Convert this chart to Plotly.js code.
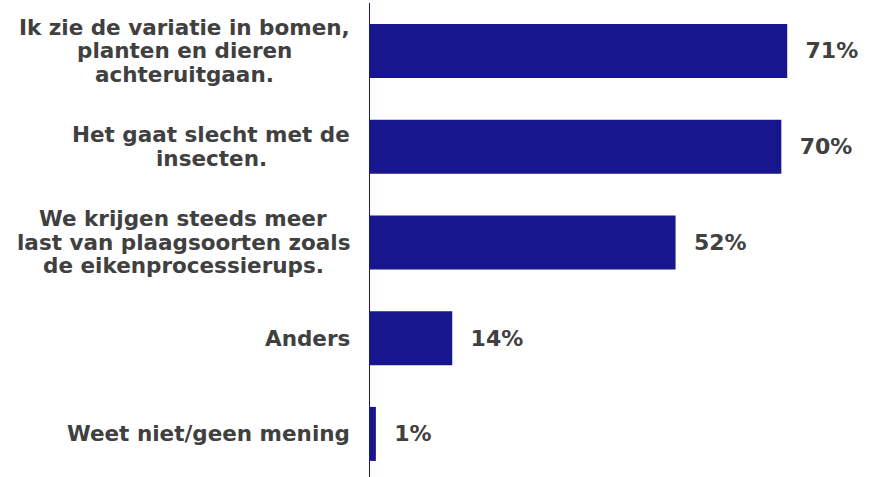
<!DOCTYPE html>
<html>
<head>
<meta charset="utf-8">
<script src="https://cdn.plot.ly/plotly-3.0.1.min.js"></script>
<style>html,body{margin:0;padding:0;background:#fff;}#chart{width:873px;height:477px;}</style>
</head>
<body>
<div id="chart"></div>
<script>
var categories = [
  "Ik zie de variatie in bomen,<br>planten en dieren<br>achteruitgaan.",
  "Het gaat slecht met de<br>insecten.",
  "We krijgen steeds meer<br>last van plaagsoorten zoals<br>de eikenprocessierups.",
  "Anders",
  "Weet niet/geen mening"
];
var values = [71, 70, 52, 14, 1];
var valueLabels = ["71%", "70%", "52%", "14%", "1%"];

var barColor = "#18168f";
var textColor = "#404040";
var fontFam = "DejaVu Sans";
var labelSize = 21.5;
var valueSize = 22;
var linePitch = 23.5;
var labelGap = 20;

var trace = {
  type: "bar",
  orientation: "h",
  x: values,
  y: categories.map(function(_, i){ return i; }),
  text: valueLabels.map(function(t){ return "\u00a0\u00a0" + t; }),
  textposition: "outside",
  cliponaxis: false,
  textfont: {family: fontFam, size: valueSize, color: textColor, weight: "bold"},
  marker: {color: barColor},
  width: 0.564,
  hoverinfo: "none"
};

// measure label lines so each multi-line label is centred as a block
var ctx = document.createElement("canvas").getContext("2d");
ctx.font = "bold " + labelSize + "px '" + fontFam + "'";

var annotations = [];
categories.forEach(function(c, i){
  var lines = c.split("<br>");
  var maxW = 0;
  lines.forEach(function(l){ maxW = Math.max(maxW, ctx.measureText(l).width); });
  var mid = (lines.length - 1) / 2;
  lines.forEach(function(l, k){
    annotations.push({
      xref: "paper", yref: "y", x: 0, y: i,
      xanchor: "center", yanchor: "middle",
      xshift: -labelGap - maxW / 2,
      yshift: (mid - k) * linePitch,
      showarrow: false,
      text: l,
      font: {family: fontFam, size: labelSize, color: textColor, weight: "bold"}
    });
  });
});

var layout = {
  width: 873, height: 477,
  margin: {l: 370, r: 0, t: 3, b: 0},
  paper_bgcolor: "#fff", plot_bgcolor: "#fff",
  showlegend: false,
  xaxis: {range: [0, 85.6], showgrid: false, zeroline: false, showticklabels: false, showline: false, ticks: ""},
  yaxis: {range: [4.45, -0.5], showgrid: false, zeroline: false, showticklabels: false,
          showline: true, linecolor: barColor, linewidth: 1.5, ticks: ""},
  annotations: annotations
};

Plotly.newPlot("chart", [trace], layout, {displayModeBar: false, staticPlot: true});
</script>
</body>
</html>
